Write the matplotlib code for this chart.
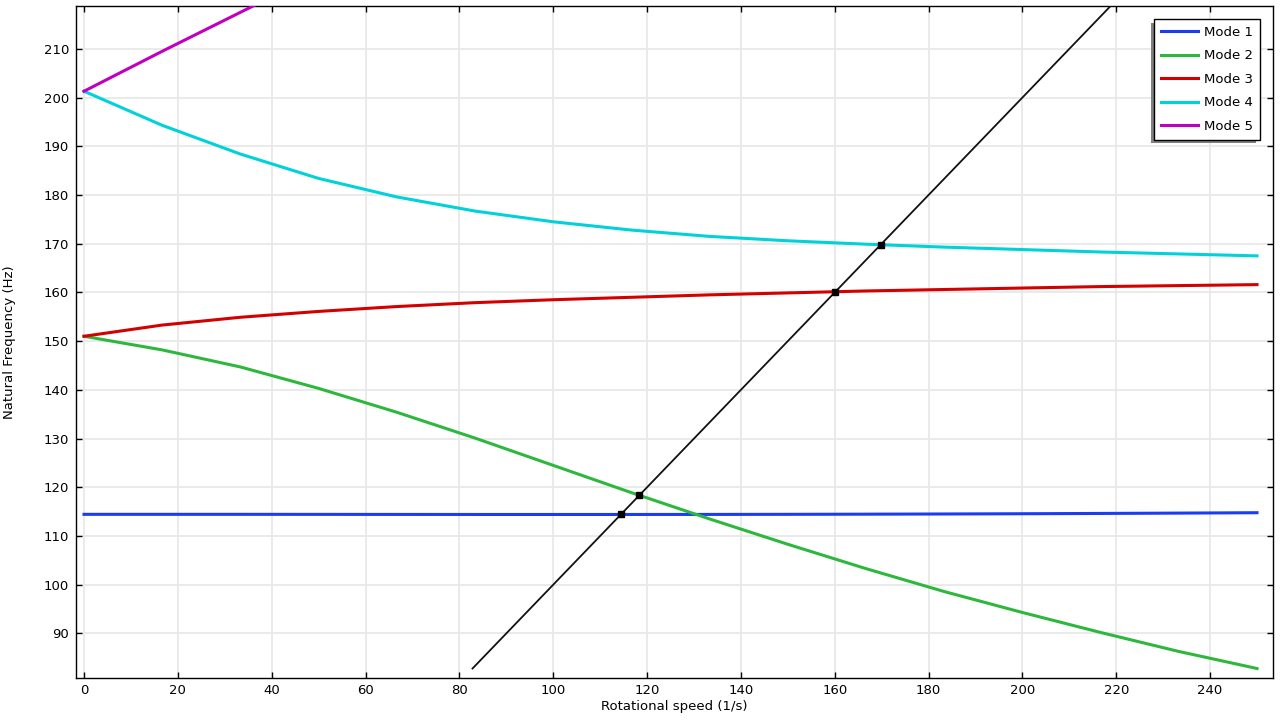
import numpy as np
import matplotlib.pyplot as plt
from matplotlib.patches import Rectangle
from matplotlib.transforms import IdentityTransform

# rotational speed samples (1/s)
speed = np.linspace(0, 250, 16)

mode1 = [114.45, 114.45, 114.45, 114.44, 114.43, 114.42, 114.42, 114.42,
         114.43, 114.45, 114.48, 114.52, 114.57, 114.63, 114.70, 114.78]
mode2 = [151.0, 148.2, 144.7, 140.3, 135.4, 130.1, 124.5, 118.9,
         113.5, 108.3, 103.3, 98.6, 94.3, 90.2, 86.3, 82.8]
mode3 = [151.0, 153.3, 154.9, 156.1, 157.1, 157.9, 158.5, 159.0,
         159.5, 159.9, 160.3, 160.6, 160.9, 161.2, 161.4, 161.6]
mode4 = [201.3, 194.3, 188.4, 183.4, 179.6, 176.7, 174.5, 172.8,
         171.5, 170.6, 169.9, 169.3, 168.8, 168.3, 167.9, 167.5]
mode5 = [201.3, 209.5, 217.5, 225.5]

modes = [mode1, mode2, mode3, mode4, mode5]
labels = ["Mode 1", "Mode 2", "Mode 3", "Mode 4", "Mode 5"]
colors = ["#1a3cf5", "#2db83d", "#d40000", "#00d2d9", "#bf00bf"]

plt.rcParams['font.family'] = 'DejaVu Sans'
plt.rcParams['font.size'] = 9

fig = plt.figure(figsize=(12.8, 7.2), dpi=100)
ax = fig.add_axes([0.0594, 0.059, 0.9351, 0.9327])

for m, lab, c in zip(modes, labels, colors):
    ax.plot(speed[:len(m)], m, color=c, lw=2.2, label=lab, zorder=3)

# excitation line f = speed
fmin = min(min(m) for m in modes)
ax.plot([fmin, 250], [fmin, 250], color="#111111", lw=1.3, zorder=4)

# crossings of the excitation line with modes 1-4
for m in modes[:4]:
    d = np.array(m) - speed
    i = np.where(np.sign(d[:-1]) != np.sign(d[1:]))[0]
    for j in i:
        t = d[j] / (d[j] - d[j + 1])
        xc = speed[j] + t * (speed[j + 1] - speed[j])
        ax.plot(xc, xc, 's', color="black", ms=4, zorder=5)

ax.set_xlim(-1.7, 253.4)
ax.set_ylim(80.95, 218.8)
ax.set_xticks(np.arange(0, 241, 20))
ax.set_yticks(np.arange(90, 211, 10))
ax.grid(True, color="#e8e8e8", lw=1.3)
ax.set_axisbelow(True)
ax.tick_params(direction="in", length=4, width=1, top=True, right=True,
               labelsize=9.5, pad=5)
for s in ax.spines.values():
    s.set_linewidth(1.0)

ax.set_xlabel("Rotational speed (1/s)", fontsize=9.5, labelpad=2)
ax.set_ylabel("Natural Frequency (Hz)", fontsize=9.5, labelpad=20)

leg = ax.legend(loc="upper right", fancybox=False, shadow=False,
                edgecolor="black", framealpha=1, fontsize=9.5, handlelength=2.8,
                labelspacing=0.8, borderaxespad=1.0, handletextpad=0.5,
                borderpad=0.5)
leg.get_frame().set_linewidth(1.0)
leg.set_zorder(10)

# drop shadow offset down-left, as in the original
fig.canvas.draw()
bb = leg.get_window_extent()
shadow = Rectangle((bb.x0 - 3.5, bb.y0 - 3.5), bb.width, bb.height,
                   transform=IdentityTransform(), facecolor="#808080",
                   edgecolor="none", zorder=9, clip_on=False)
ax.add_artist(shadow)

fig.savefig("out.png", dpi=100)
